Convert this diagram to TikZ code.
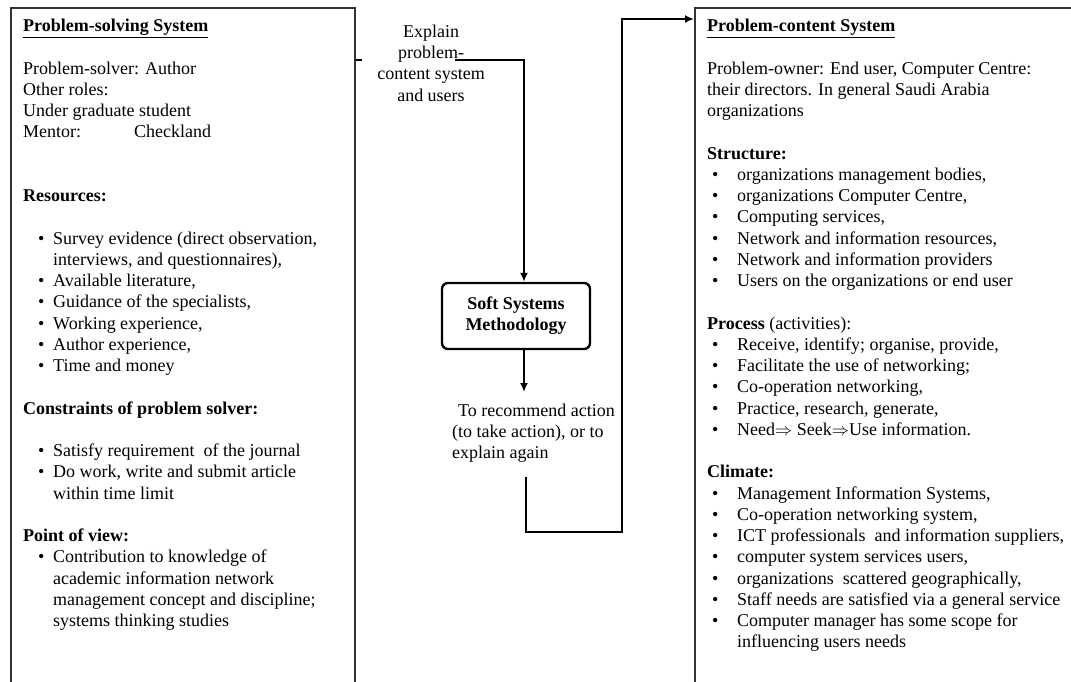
\documentclass[tikz,border=0pt]{standalone}
\usepackage{fontspec}
\setmainfont{Liberation Serif}
\usetikzlibrary{arrows.meta,positioning}
\newcommand{\lbl}{\makebox[30pt][l]{\hspace*{15pt}\textbullet}}
\newcommand{\rbl}{\makebox[30pt][l]{\hspace*{5pt}\textbullet}}
\newcommand{\cnt}{\hspace*{30pt}}

\tikzset{
  sysbox/.style={draw=black!80, line width=1.8pt, anchor=north west, inner sep=0pt},
  boxtext/.style={anchor=north west, align=left, inner sep=0pt},
  ssmbox/.style={draw, line width=2.4pt, rounded corners=6pt, minimum width=148pt,
    minimum height=66pt, align=center, font=\fontsize{18}{21.25}\selectfont\bfseries},
  flow/.style={line width=2.6pt, -{Latex[length=9pt,width=8pt]}},
  link/.style={line width=2.6pt}
}

\begin{document}
\begin{tikzpicture}[x=1pt, y=-1pt, inner sep=0pt, font=\fontsize{18}{21.25}\selectfont]
      \useasboundingbox (0,0) rectangle (1071,681);

      % Problem-solving system (left, open at the bottom)
      \node[sysbox, minimum width=344pt, minimum height=700pt] (ps) at (10,7) {};
      \node[boxtext] (pstext) at (23,19) {\underline{\textbf{Problem-solving System}}\\[21.25pt]
        Problem-solver: Author\\
        Other roles:\\
        Under graduate student\\
        \makebox[111pt][l]{Mentor:}Checkland\\[42.5pt]
        \textbf{Resources:}\\[21.25pt]
        \lbl Survey evidence (direct observation,\\
        \cnt interviews, and questionnaires),\\
        \lbl Available literature,\\
        \lbl Guidance of the specialists,\\
        \lbl Working experience,\\
        \lbl Author experience,\\
        \lbl Time and money\\[21.25pt]
        \textbf{Constraints of problem solver:}\\[21.25pt]
        \lbl Satisfy requirement\ \ of the journal\\
        \lbl Do work, write and submit article\\
        \cnt within time limit\\[21.25pt]
        \textbf{Point of view:}\\
        \lbl Contribution to knowledge of\\
        \cnt academic information network\\
        \cnt management concept and discipline;\\
        \cnt systems thinking studies};

      % Problem-content system (right, open at the bottom and right)
      \node[sysbox, minimum width=420pt, minimum height=700pt] (pc) at (694,7) {};
      \node[boxtext] (pctext) at (707,19) {\underline{\textbf{Problem-content System}}\\[21.25pt]
        Problem-owner: End user,\ Computer Centre:\\
        their directors. In general\ Saudi Arabia\\
        organizations\\[21.25pt]
        \textbf{Structure:}\\
        \rbl organizations management bodies,\\
        \rbl organizations Computer Centre,\\
        \rbl Computing services,\\
        \rbl Network and information resources,\\
        \rbl Network and information providers\\
        \rbl Users on the organizations or end user\\[21.25pt]
        \textbf{Process} (activities):\\
        \rbl Receive,\ identify; organise, provide,\\
        \rbl Facilitate the use of networking;\\
        \rbl Co-operation networking,\\
        \rbl Practice, research, generate,\\
        \rbl Need$\Rightarrow$ Seek$\Rightarrow$Use information.\\[21.25pt]
        \textbf{Climate:}\\
        \rbl Management Information Systems,\\
        \rbl Co-operation networking system,\\
        \rbl ICT professionals\ \ and information suppliers,\\
        \rbl computer system services users,\\
        \rbl organizations\ \ scattered geographically,\\
        \rbl Staff needs are satisfied via a general service\\
        \rbl Computer manager has some scope for\\
        \cnt influencing users needs};

      % Methodology in the middle
      \node[ssmbox] (ssm) at (516,316) {Soft Systems\\Methodology};
      \node[align=center] (explain) at (431,63) {Explain\\problem-\\content system\\and users};
      \node[align=left, anchor=west] (recommend) at (452,433)
        {\hspace*{6pt}To recommend action\\(to take action), or to\\explain again};

      % Connectors
      \coordinate (stub) at (362,60);
      \coordinate (exitA) at (455,60);
      \coordinate (tipB) at (524,392);
      \coordinate (backA) at (526,477);
      \coordinate (turnB) at (622,532);
      \draw[link] (ps.east |- stub) -- (stub);
      \draw[flow] (exitA) -| (ssm.north -| tipB);
      \draw[flow] (ssm.south -| tipB) -- (tipB);
      \draw[flow] (backA) |- (turnB) |- (pc.west |- 0,19);
    \end{tikzpicture}
\end{document}
